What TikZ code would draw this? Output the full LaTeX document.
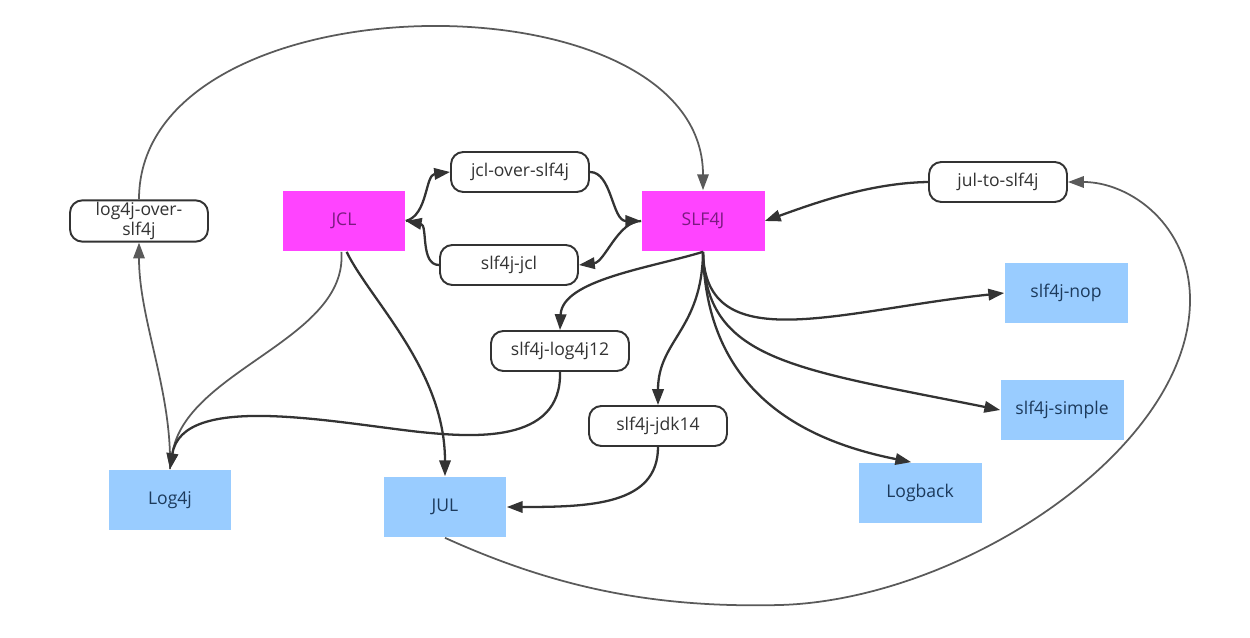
\documentclass[tikz,border=0pt]{standalone}
\usepackage{fontspec}
\setmainfont{Open Sans}
\usetikzlibrary{arrows.meta}

\definecolor{apipink}{HTML}{FF44FF}
\definecolor{apitext}{HTML}{7A1A80}
\definecolor{implblue}{HTML}{99CCFF}
\definecolor{impltext}{HTML}{1C3A5C}
\definecolor{linedark}{HTML}{333333}
\definecolor{linegray}{HTML}{5A5A5A}

\begin{document}
\begin{tikzpicture}[x=0.02cm, y=-0.02cm, font=\fontsize{10}{11.5}\selectfont,
  bridge/.style={draw=linedark, line width=1.1pt, rounded corners=7pt, fill=white,
    text=linedark, minimum width=2.76cm, minimum height=0.8cm, align=center, inner sep=1pt},
  api/.style={fill=apipink, text=apitext, minimum width=2.46cm, minimum height=1.22cm},
  impl/.style={fill=implblue, text=impltext, minimum width=2.46cm, minimum height=1.22cm},
  link/.style={draw=linedark, line width=1.3pt, -{Triangle[length=9pt,width=6.5pt]}},
  farlink/.style={draw=linegray, line width=1pt, -{Triangle[length=9pt,width=6.5pt]}}]
\useasboundingbox (0,0) rectangle (1250,638);

% api boxes
\node[api] (jcl) at (344,221) {JCL};
\node[api] (slf4j) at (703,221) {SLF4J};

% bridges
\node[bridge] (log4jover) at (139,221) {log4j-over-\\slf4j};
\node[bridge] (jclover) at (520,172) {jcl-over-slf4j};
\node[bridge] (slfjcl) at (509,265) {slf4j-jcl};
\node[bridge] (julto) at (998,182) {jul-to-slf4j};
\node[bridge] (slflog4j) at (560,351) {slf4j-log4j12};
\node[bridge] (slfjdk) at (658,426) {slf4j-jdk14};

% implementations
\node[impl] (log4j) at (170,500) {Log4j};
\node[impl] (jul) at (445,507) {JUL};
\node[impl] (logback) at (920,493) {Logback};
\node[impl] (slfnop) at (1066,293) {slf4j-nop};
\node[impl] (slfsimple) at (1062,410) {slf4j-simple};

% JCL <-> SLF4J
\draw[link] (jcl.east) .. controls (428,215) and (425,175) .. (jclover.west);
\draw[link] (jclover.east) .. controls (612,172) and (612,221) .. (slf4j.west);
\draw[link] (slf4j.west) .. controls (618,221) and (605,262) .. (slfjcl.east);
\draw[link] (slfjcl.west) .. controls (420,265) and (428,225) .. (jcl.east);

% log4j side
\draw[farlink] (log4j.north) .. controls (172,390) and (139,320) .. (log4jover.south);
\draw[farlink] (log4jover.north) .. controls (139,-25) and (703,-30) .. (slf4j.north);
\draw[farlink] ([xshift=-1.5pt]jcl.south) .. controls (348,340) and (185,370) .. (log4j.north);
\draw[link] (slflog4j.south) .. controls (562,445) and (470,437) .. (420,432)
  .. controls (330,422) and (182,392) .. (log4j.north);

% JUL side
\draw[link] ([xshift=1.5pt]jcl.south) .. controls (370,300) and (445,370) .. (jul.north);
\draw[link] (slfjdk.south) .. controls (658,505) and (590,507) .. (jul.east);
\draw[link] (julto.west) .. controls (870,183) and (815,203) .. (slf4j.east);
\draw[farlink] (jul.south) .. controls (560,590) and (660,608) .. (780,605)
  .. controls (960,600) and (1190,450) .. (1190,300)
  .. controls (1190,225) and (1130,182) .. (julto.east);

% SLF4J bindings
\draw[link] (slf4j.south) .. controls (650,268) and (562,280) .. (slflog4j.north);
\draw[link] (slf4j.south) .. controls (702,330) and (658,340) .. (slfjdk.north);
\draw[link] (slf4j.south) .. controls (705,360) and (840,310) .. (slfnop.west);
\draw[link] (slf4j.south) .. controls (705,360) and (790,368) .. (slfsimple.west);
\draw[link] (slf4j.south) .. controls (706,390) and (800,440) .. ([xshift=-5pt]logback.north);

\end{tikzpicture}
\end{document}
